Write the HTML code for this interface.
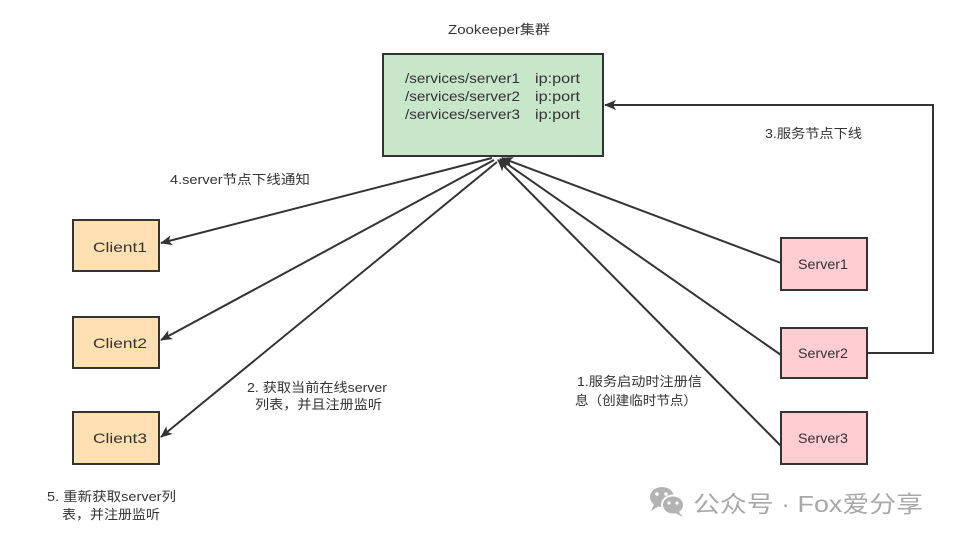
<!DOCTYPE html>
<html>
<head>
<meta charset="utf-8">
<style>
  html, body { margin: 0; padding: 0; background: #ffffff; }
  svg { display: block; }
  text { font-family: "Liberation Sans", "Noto Sans CJK SC", sans-serif; fill: #333333; }
</style>
</head>
<body>
<svg width="955" height="541" viewBox="0 0 955 541" xmlns="http://www.w3.org/2000/svg">
  <defs>
    <marker id="arr" viewBox="0 0 12 10" refX="11" refY="5" markerWidth="12" markerHeight="10" markerUnits="userSpaceOnUse" orient="auto">
      <path d="M0,0 L12,5 L0,10 L3,5 Z" fill="#333333"/>
    </marker>
  </defs>

  <!-- Title -->
  <text x="448" y="34" font-size="13" textLength="102" lengthAdjust="spacingAndGlyphs">Zookeeper集群</text>

  <!-- Green box -->
  <rect x="383" y="54" width="220" height="102" fill="#c8e6c9" stroke="#333333" stroke-width="2"/>
  <text x="405" y="83" font-size="14" textLength="115" lengthAdjust="spacingAndGlyphs">/services/server1</text>
  <text x="535" y="83" font-size="14" textLength="45" lengthAdjust="spacingAndGlyphs">ip:port</text>
  <text x="405" y="101" font-size="14" textLength="115" lengthAdjust="spacingAndGlyphs">/services/server2</text>
  <text x="535" y="101" font-size="14" textLength="45" lengthAdjust="spacingAndGlyphs">ip:port</text>
  <text x="405" y="119" font-size="14" textLength="115" lengthAdjust="spacingAndGlyphs">/services/server3</text>
  <text x="535" y="119" font-size="14" textLength="45" lengthAdjust="spacingAndGlyphs">ip:port</text>

  <!-- Client boxes -->
  <rect x="73" y="220" width="86" height="51" fill="#ffe0b2" stroke="#333333" stroke-width="2"/>
  <text x="93" y="252" font-size="14" textLength="54" lengthAdjust="spacingAndGlyphs">Client1</text>
  <rect x="73" y="317" width="86" height="51" fill="#ffe0b2" stroke="#333333" stroke-width="2"/>
  <text x="93" y="348" font-size="14" textLength="54" lengthAdjust="spacingAndGlyphs">Client2</text>
  <rect x="73" y="412" width="86" height="52" fill="#ffe0b2" stroke="#333333" stroke-width="2"/>
  <text x="93" y="443" font-size="14" textLength="54" lengthAdjust="spacingAndGlyphs">Client3</text>

  <!-- Server boxes -->
  <rect x="781" y="238" width="86" height="52" fill="#ffcdd2" stroke="#333333" stroke-width="2"/>
  <text x="798" y="269" font-size="14" textLength="50" lengthAdjust="spacingAndGlyphs">Server1</text>
  <rect x="781" y="328" width="86" height="50" fill="#ffcdd2" stroke="#333333" stroke-width="2"/>
  <text x="798" y="358" font-size="14" textLength="50" lengthAdjust="spacingAndGlyphs">Server2</text>
  <rect x="781" y="412" width="86" height="52" fill="#ffcdd2" stroke="#333333" stroke-width="2"/>
  <text x="798" y="443" font-size="14" textLength="50" lengthAdjust="spacingAndGlyphs">Server3</text>

  <!-- Connectors: zookeeper -> clients -->
  <line x1="492" y1="158" x2="161" y2="243" stroke="#333333" stroke-width="2" marker-end="url(#arr)"/>
  <line x1="494" y1="160" x2="161" y2="340" stroke="#333333" stroke-width="2" marker-end="url(#arr)"/>
  <line x1="497" y1="162" x2="161" y2="437" stroke="#333333" stroke-width="2" marker-end="url(#arr)"/>

  <!-- Connectors: servers -> zookeeper -->
  <line x1="781" y1="263" x2="502" y2="158" stroke="#333333" stroke-width="2" marker-end="url(#arr)"/>
  <line x1="781" y1="355" x2="500" y2="159" stroke="#333333" stroke-width="2" marker-end="url(#arr)"/>
  <line x1="781" y1="446" x2="498" y2="160" stroke="#333333" stroke-width="2" marker-end="url(#arr)"/>

  <!-- Server2 offline connector -->
  <polyline points="867,353 933,353 933,105 605,105" fill="none" stroke="#333333" stroke-width="2" marker-end="url(#arr)"/>

  <!-- Labels -->
  <text x="170" y="184" font-size="13" textLength="140" lengthAdjust="spacingAndGlyphs">4.server节点下线通知</text>
  <text x="765" y="138" font-size="13" textLength="97" lengthAdjust="spacingAndGlyphs">3.服务节点下线</text>
  <text x="247" y="392" font-size="13" textLength="140" lengthAdjust="spacingAndGlyphs">2. 获取当前在线server</text>
  <text x="255" y="409" font-size="13" textLength="127" lengthAdjust="spacingAndGlyphs">列表，并且注册监听</text>
  <text x="577" y="386" font-size="13" textLength="125" lengthAdjust="spacingAndGlyphs">1.服务启动时注册信</text>
  <text x="575" y="405" font-size="13" textLength="122" lengthAdjust="spacingAndGlyphs">息（创建临时节点）</text>
  <text x="47" y="501" font-size="13" textLength="129" lengthAdjust="spacingAndGlyphs">5. 重新获取server列</text>
  <text x="62" y="519" font-size="13" textLength="98" lengthAdjust="spacingAndGlyphs">表，并注册监听</text>

  <!-- Watermark -->
  <g>
    <ellipse cx="662" cy="497" rx="12" ry="10" fill="#b3b3b3"/>
    <path d="M654,504 L651,511 L659,506 Z" fill="#b3b3b3"/>
    <ellipse cx="673" cy="505" rx="11" ry="9.5" fill="#b3b3b3" stroke="#ffffff" stroke-width="2"/>
    <path d="M679,512 L683,517 L675,513 Z" fill="#b3b3b3"/>
    <circle cx="657" cy="494" r="1.8" fill="#ffffff"/>
    <circle cx="666" cy="494" r="1.8" fill="#ffffff"/>
    <circle cx="669" cy="503" r="1.6" fill="#ffffff"/>
    <circle cx="677" cy="503" r="1.6" fill="#ffffff"/>
  </g>
  <text x="693" y="512" font-size="23" textLength="230" lengthAdjust="spacingAndGlyphs" style="fill:#a8a8a8">公众号 · Fox爱分享</text>
</svg>
</body>
</html>
